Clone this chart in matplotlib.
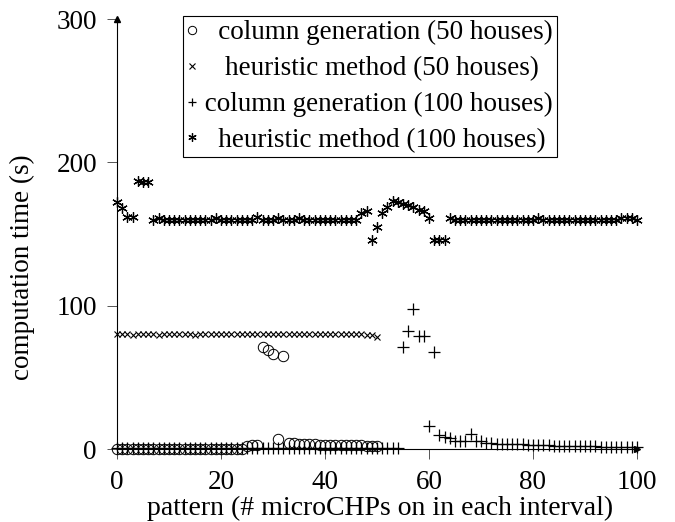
import numpy as np
import matplotlib.pyplot as plt

plt.rcParams['font.family'] = ['Liberation Serif', 'DejaVu Serif']

# pattern index
x50 = np.arange(0, 51)
x100 = np.arange(0, 101)

# column generation, 50 houses
cg50 = [0.3] * 25 + [2.0, 2.5, 2.5, 71, 69, 66, 7, 65,
                     4.5, 4.5, 3.5, 3.5, 3.5, 3.5, 3.0, 3.0, 3.0, 3.0,
                     3.0, 2.5, 2.5, 2.5, 2.5, 2.0, 2.0, 2.0]

# heuristic method, 50 houses
h50 = [80, 80, 80, 79.5, 80, 80, 80.5, 80, 79.5, 80,
       80, 80.5, 80, 80, 80, 79.5, 80, 80, 80, 80,
       80, 80, 80, 80, 80, 80, 80, 80, 80.5, 80,
       80, 80, 80, 80, 80, 80.5, 80, 80, 80, 80.5,
       80, 80, 80, 80.5, 80, 80, 80, 80, 79.5, 79.5,
       78.5]

# column generation, 100 houses
cg100 = [0.5] * 55 + [71, 82, 98, 79, 79, 16, 68, 10, 8.5, 7.5,
                      5.5, 5.5, 5.5, 10.5, 5.5, 5.5, 4, 4, 3.7, 3.7,
                      3.7, 3.7, 3.5, 3.2, 3, 2.8, 2.6, 2.6, 2.5, 2.4,
                      2.3, 2.2, 2.1, 2, 2, 1.9, 1.8, 1.8, 1.7, 1.7,
                      1.6, 1.6, 1.5, 1.5, 1.5, 1.4]

# heuristic method, 100 houses
h100 = [172, 168, 162, 162, 187, 186, 186, 160, 161, 160,
        160, 160, 160, 160, 160, 160, 160, 160, 160, 161,
        160, 160, 160, 160, 160, 160, 160, 162, 160, 160,
        160, 161, 160, 160, 160, 161, 160, 160, 160, 160,
        160, 160, 160, 160, 160, 160, 160, 165, 166, 146,
        155, 165, 169, 173, 172, 171, 170, 169, 167, 166,
        161, 146, 146, 146, 161, 160, 160, 160, 160, 160,
        160, 160, 160, 160, 160, 160, 160, 160, 160, 160,
        160, 161, 160, 160, 160, 160, 160, 160, 160, 160,
        160, 160, 160, 160, 160, 160, 160, 161, 161, 161,
        160]

# legend labels (leading spaces mimic centred legend text)
labels = ['   column generation (50 houses)',
          '    heuristic method (50 houses)',
          ' column generation (100 houses)',
          '   heuristic method (100 houses)']

fig = plt.figure(figsize=(6.75, 5.22), dpi=100)
ax = fig.add_axes([0.1733, 0.1398, 0.7704, 0.8238])

ax.plot(x50, cg50, ls='none', marker='o', ms=7.5, mfc='none', mec='black',
        mew=0.7, clip_on=False, label=labels[0])
ax.plot(x50, h50, ls='none', marker='x', ms=5, mec='black', mew=0.8,
        clip_on=False, label=labels[1])
ax.plot(x100, cg100, ls='none', marker='+', ms=8, mec='black', mew=0.9,
        clip_on=False, label=labels[2])
ax.plot(x100, h100, ls='none', marker=(6, 2, 0), ms=7.5, mec='black', mew=0.9,
        clip_on=False, label=labels[3])

ax.set_xlim(0, 100)
ax.set_ylim(0, 300)
ax.set_xticks([0, 20, 40, 60, 80, 100])
ax.set_yticks([0, 100, 200, 300])
ax.tick_params(labelsize=19.5, direction='out', length=7, width=0.7,
               color='#555555')
ax.tick_params(axis='x', pad=8)
ax.tick_params(axis='y', pad=7.4)
for s in ['top', 'right']:
    ax.spines[s].set_visible(False)
for s in ['left', 'bottom']:
    ax.spines[s].set_linewidth(0.8)
ax.plot(1, 0, '>', ms=5, color='black', transform=ax.transAxes, clip_on=False)
ax.plot(0, 1, '^', ms=5, color='black', transform=ax.transAxes, clip_on=False)

ax.set_xlabel('pattern (# microCHPs on in each interval)', fontsize=20)
ax.set_ylabel('computation time (s)', fontsize=19.5)
ax.xaxis.set_label_coords(0.505, -0.108)
ax.yaxis.set_label_coords(-0.158, 0.423)

leg = ax.legend(loc='upper left', bbox_to_anchor=(0.127, 1.007),
                borderaxespad=0, fontsize=19.5, fancybox=False,
                edgecolor='black', framealpha=1, handlelength=0.4,
                handletextpad=0.0, labelspacing=0.4, borderpad=0.15,
                markerscale=0.8)
leg.get_frame().set_linewidth(0.8)

fig.savefig('out.png', dpi=100)
